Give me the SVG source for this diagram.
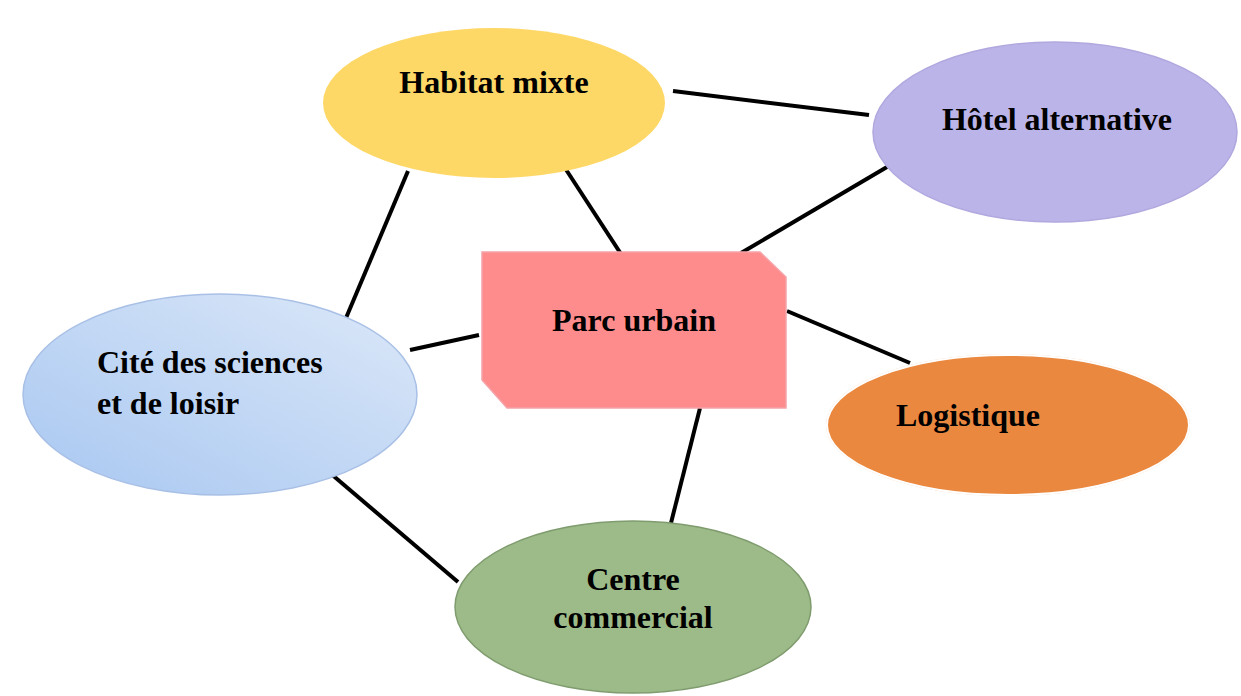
<svg xmlns="http://www.w3.org/2000/svg" width="1241" height="696" viewBox="0 0 1241 696">
<defs>
<style>
.lbl{font-family:"Liberation Serif","Times New Roman",serif;font-weight:bold;font-size:32px;fill:#000}
.c{text-anchor:middle}
.conn line{stroke:#000;stroke-width:4;stroke-linecap:butt}
</style>
<linearGradient id="gBlue" x1="1" y1="0" x2="0" y2="1">
<stop offset="0" stop-color="#dce8f8"/>
<stop offset="1" stop-color="#a8c7f1"/>
</linearGradient>
<filter id="glow" x="-10%" y="-10%" width="120%" height="120%">
<feGaussianBlur in="SourceAlpha" stdDeviation="2"/>
<feFlood flood-color="#f5c9a0"/>
<feComposite operator="in" in2="SourceGraphic"/>
<feMerge><feMergeNode/><feMergeNode in="SourceGraphic"/></feMerge>
</filter>
</defs>
<rect width="1241" height="696" fill="#fff"/>
<g class="conn" id="connectors">
<line x1="673" y1="91" x2="869" y2="115"/>
<line x1="408" y1="171" x2="346" y2="318"/>
<line x1="565" y1="168" x2="623" y2="257"/>
<line x1="887" y1="167" x2="741" y2="253"/>
<line x1="410" y1="350" x2="479" y2="335"/>
<line x1="787" y1="311" x2="910" y2="363"/>
<line x1="700" y1="408" x2="671" y2="523"/>
<line x1="330" y1="473" x2="458" y2="582"/>
</g>
<g id="habitat">
<ellipse cx="494" cy="103" rx="171" ry="75" fill="#fed866"/>
<text class="lbl c" x="494" y="93">Habitat mixte</text>
</g>
<g id="hotel">
<ellipse cx="1055" cy="132" rx="182" ry="90" fill="#bbb4e8" stroke="#b0a8de" stroke-width="1.5"/>
<text class="lbl c" x="1057" y="130">Hôtel alternative</text>
</g>
<g id="parc">
<path d="M482,252 L760,252 L786,277 L786,408 L507,408 L482,380 Z" fill="#ff8c8c" stroke="#f4a3a8" stroke-width="1.5"/>
<text class="lbl c" x="634" y="331">Parc urbain</text>
</g>
<g id="cite">
<ellipse cx="220" cy="394.5" rx="197" ry="100.5" fill="url(#gBlue)" stroke="#a9c0e6" stroke-width="1.5"/>
<text class="lbl" x="97" y="373">Cité des sciences</text>
<text class="lbl" x="97" y="414">et de loisir</text>
</g>
<g id="logistique">
<ellipse cx="1008" cy="425" rx="181" ry="70" fill="#ea883f" stroke="#ffffff" stroke-width="2" filter="url(#glow)"/>
<text class="lbl" x="896" y="426">Logistique</text>
</g>
<g id="centre">
<ellipse cx="633" cy="607" rx="178" ry="86" fill="#9dba89" stroke="#7f9c6e" stroke-width="1.5"/>
<text class="lbl c" x="633" y="590">Centre</text>
<text class="lbl c" x="633" y="628">commercial</text>
</g>
</svg>
